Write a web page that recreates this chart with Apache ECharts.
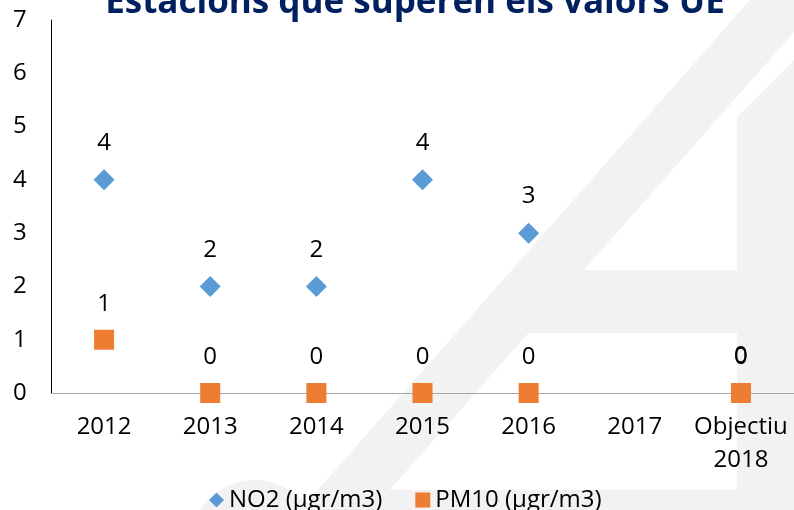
<!DOCTYPE html>
<html>
<head>
<meta charset="utf-8">
<script src="https://cdn.jsdelivr.net/npm/echarts@6/dist/echarts.min.js"></script>
<style>html,body{margin:0;padding:0;background:#fff}#c{width:794px;height:510px}</style>
</head>
<body>
<div id="c"></div>
<script>
var categories = ['2012', '2013', '2014', '2015', '2016', '2017', 'Objectiu 2018'];
var no2Values = [4, 2, 2, 4, 3, null, 0];
var pm10Values = [1, 0, 0, 0, 0, null, 0];
var yTicks = [0, 1, 2, 3, 4, 5, 6, 7];
var titleText = 'Estacions que superen els valors UE';
var seriesNames = ['NO2 (µgr/m3)', 'PM10 (µgr/m3)'];

var FONT = '"Open Sans", sans-serif';
var FS = 24;
var WM = '#f2f2f2';
var chart = echarts.init(document.getElementById('c'), null, {renderer: 'canvas'});
chart.setOption({
  animation: false,
  backgroundColor: '#ffffff',
  graphic: [
    {type: 'polygon', z: -10, silent: true, shape: {points: [[750,0],[300,510],[372,510],[794,32],[794,0]]}, style: {fill: WM}},
    {type: 'polygon', z: -10, silent: true, shape: {points: [[737,117],[794,60],[794,510],[737,510]]}, style: {fill: WM}},
    {type: 'polygon', z: -10, silent: true, shape: {points: [[584,270],[737,270],[737,333],[528,333]]}, style: {fill: WM}},
    {type: 'rect', z: -10, silent: true, shape: {x: 370, y: 490, width: 424, height: 20}, style: {fill: WM}},
    {type: 'circle', z: -10, silent: true, shape: {cx: 255, cy: 545, r: 65}, style: {fill: WM}},
    {type: 'text', z: 10, x: 415, y: -14, style: {text: titleText, x: 0, y: 0, align: 'center', verticalAlign: 'top', fill: '#002060', font: 'bold 35px "Open Sans", sans-serif'}}
  ],
  grid: {left: 51, top: 20, width: 745, height: 373, containLabel: false},
  legend: {
    data: [{name: seriesNames[0], icon: 'diamond'}, {name: seriesNames[1], icon: 'rect'}],
    left: 204, top: 483, itemWidth: 15, itemHeight: 15, itemGap: 33,
    textStyle: {fontFamily: FONT, fontSize: FS, color: '#000'}
  },
  xAxis: {
    type: 'category', data: categories, boundaryGap: true,
    axisLine: {lineStyle: {color: '#a6a6a6', width: 1}},
    axisTick: {show: false},
    axisLabel: {
      fontFamily: FONT, fontSize: FS, color: '#000', margin: 18, lineHeight: 33, interval: 0,
      formatter: function (v) { return v.replace(' ', '\n'); }
    }
  },
  yAxis: {
    type: 'value', min: yTicks[0], max: yTicks[yTicks.length - 1], interval: 1,
    axisLine: {show: true, lineStyle: {color: '#000', width: 1}},
    axisTick: {show: false},
    splitLine: {show: false},
    axisLabel: {fontFamily: FONT, fontSize: FS, color: '#000', margin: 38, align: 'left'}
  },
  series: [
    {
      name: seriesNames[0], type: 'scatter', data: no2Values, symbol: 'diamond', symbolSize: [21, 21],
      itemStyle: {color: '#5b9bd5', opacity: 1},
      label: {show: true, position: 'top', distance: 14, fontFamily: FONT, fontSize: FS, color: '#000'}
    },
    {
      name: seriesNames[1], type: 'scatter', data: pm10Values, symbol: 'rect', symbolSize: [20, 20],
      itemStyle: {color: '#ed7d31', opacity: 1},
      label: {show: true, position: 'top', distance: 14, fontFamily: FONT, fontSize: FS, color: '#000'}
    }
  ]
});
</script>
</body>
</html>
